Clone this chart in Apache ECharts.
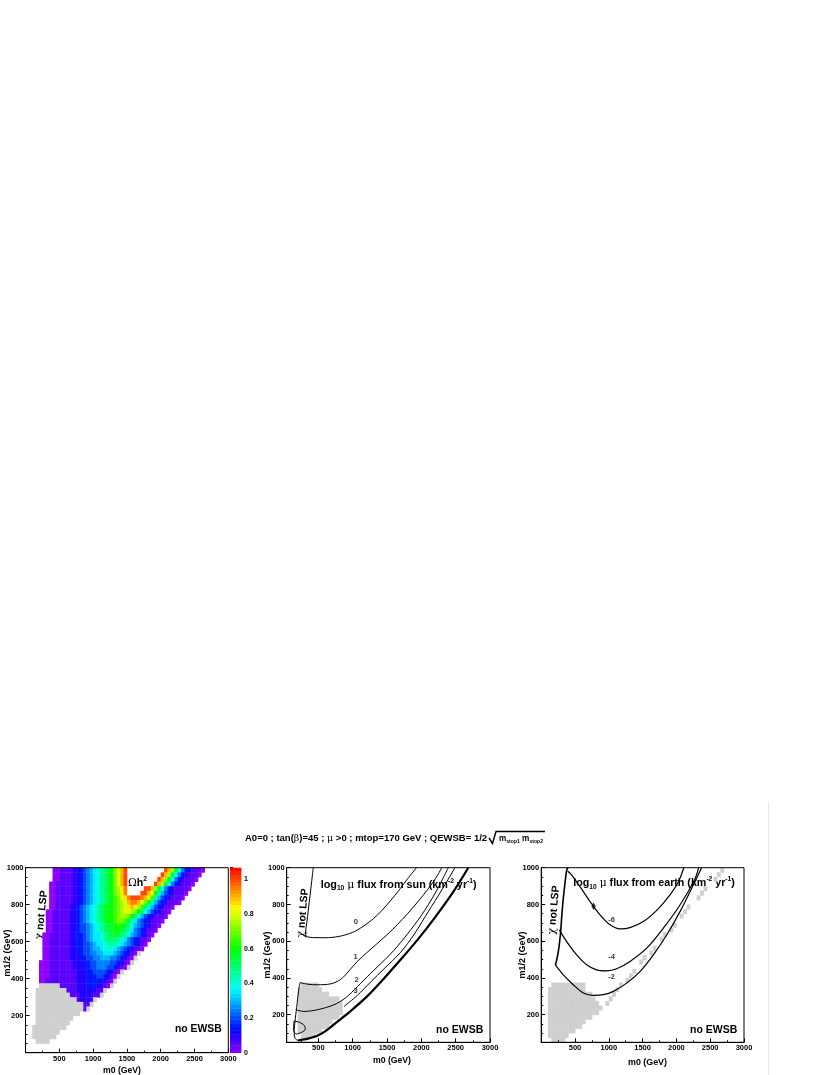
<!DOCTYPE html>
<html>
<head>
<meta charset="utf-8">
<script src="https://cdn.jsdelivr.net/npm/echarts@6/dist/echarts.min.js"></script>
<style>
html, body { margin: 0; padding: 0; background: #fff; }
#main { width: 830px; height: 1075px; }
</style>
</head>
<body>
<div id="main"></div>
<script>
// ---- data ----
// relic density grid: rows of m1/2 (25 GeV) from 975-1000 down to 50-75,
// columns of m0 (50 GeV) from 0. digit/letter = value/0.05, 'g' = gray cell
var relicRows = [
  "........001111223456789ABCEGIK...........KIFB85321110",
  "........001111223456789ABCEGIK..........KIFB85321110",
  "........001111223456789ABCEGIK.........KIFB85321110",
  ".......0011111223456789ABCEGIK........KIFB85321110",
  ".......0011111223456789ABCEFHJ.....KKIFB853211110",
  ".......0011111223456789ABCEFHJ....KKIGC964321110",
  ".......0011111223456789ABCDEGHJKKKJIGD964321110",
  ".......0011111223456789ABCDEFGIJJIGEC964321110",
  ".......001111223456789ABCCDEFGHIHFDA86432110",
  "......0011111223456789ABCCDEFGGFECA86432110",
  "......0011111223456789ABCCDEFFECA864321110",
  "......0011111223456789ABCCDEEDB9754321110",
  "......00111112234456789ABBCDCBA865432110",
  "......00111112234456789ABBCCBA975432110",
  ".....0011111122334567789ABBBA986543210",
  ".....0011111122334567789AAA9875432110",
  ".....0011111122334456778999876543210",
  ".....001111112233445667888765432110",
  ".....0011111122334455667776543210g",
  ".....001111112223344556665543210g",
  "....000111111122233445555443210g",
  "....00011111112223344555443210g",
  "....000111111112223344443210g",
  "....000111111112223334432 10g".replace(' ', ''),
  "....0011111111122233332210g",
  "....gggggg111112223332210g",
  "...ggggggggg11122222211g",
  "...gggggggggg111222211g",
  "...gggggggggggg12221g",
  "...gggggggggggggg11g",
  "...gggggggggggggg1g",
  "...ggggggggggggg",
  "...ggggggggggg",
  "...gggggggggg",
  "..gggggggggg",
  "..gggggggg",
  "..ggggggg",
  "...gggg"
];
// gray cells of the middle and right panels: rows of 25 GeV from 350-375 down
var sunGrayRows = [
  ".....ggggg",
  "....ggggggg",
  "....ggggggggg",
  "....gggggggggggg",
  "....ggggggggggggg",
  "....ggggggggggggg",
  "....ggggggggggggg",
  "....gggggggggggg",
  "....gggggggggg",
  "....ggggggggg",
  "....ggggggg",
  ".....gggg"
];
var earthGrayRows = [
  "...gggggggggg",
  "..ggggggggggg",
  "..ggggggggggggg",
  "..gggggggggggggg",
  "..ggggggggggggggg",
  "..gggggggggggggggg",
  "..ggggggggggggggg",
  "..ggggggggggggg",
  "..ggggggggggg",
  "..gggggggggg",
  "..gggggggg",
  "..gggggg",
  "...gggg"
];
var earthEdgeCells = [[950,250],[1000,275],[1050,300],[1100,325],[1150,350],[1250,375],[1300,400],
  [1350,425],[1450,475],[1500,500],[1600,525],[1650,550],[1750,600],[1800,625],[1900,650],[1950,675],
  [2050,725],[2100,750],[2150,775],[2300,825],[2350,850],[2400,875],[2550,925],[2600,950],[2650,975]];

// contour lines, [m0, m1/2]
var sunChiZero = [[427,1000],[405,930],[380,850],[355,770],[332,700],[315,650],[322,628],[420,620],[600,619],
  [800,626],[1000,648],[1150,680],[1300,722],[1420,765],[1550,820],[1680,880],[1800,940],[1930,1000]];
var sunOne = [[234,375],[350,366],[485,363],[680,368],[826,392],[950,440],[1068,490],[1214,540],[1350,585],
  [1500,635],[1650,690],[1800,750],[1950,815],[2100,885],[2230,955],[2297,1000]];
var sunTwo = [[171,227],[292,218],[485,227],[728,254],[898,292],[1068,352],[1262,425],[1457,495],[1600,550],
  [1800,640],[2000,740],[2200,860],[2393,1000]];
var sunThree = [[874,245],[1068,305],[1262,378],[1457,450],[1700,540],[1900,640],[2100,760],[2300,880],[2490,1000]];
var sunEdge = [[200,60],[350,70],[485,85],[630,118],[780,163],[970,220],[1210,300],[1450,395],[1700,500],
  [1950,610],[2200,730],[2450,860],[2684,1000]];
var sunLeft = [[234,375],[215,335],[200,290],[185,240],[172,200],[160,160],[150,120],[150,90],[165,70],[200,60]];
var sunLoop = [[145,165],[220,160],[300,140],[310,120],[260,105],[180,95],[140,115],[145,165]];
var sunLabels = [[1048,707,'0'],[1044,517,'1'],[1059,390,'2'],[1044,332,'3']];

var earthChi = [[395,1000],[377,987],[350,910],[327,834],[305,740],[288,653],[270,590],[253,544],[230,500],[210,471]];
var earthSix = [[390,982],[451,960],[574,897],[722,816],[870,743],[1018,689],[1166,667],[1314,674],[1511,707],
  [1720,772],[1905,852],[2030,924],[2110,1000]];
var earthFour = [[268,662],[377,598],[525,526],[673,472],[821,444],[969,439],[1117,450],[1314,490],[1560,562],
  [1807,671],[2053,797],[2270,935],[2330,1000]];
var earthTwo = [[210,471],[327,417],[475,363],[623,318],[771,305],[919,309],[1067,327],[1264,372],[1461,435],
  [1659,526],[1856,634],[2053,761],[2250,906],[2374,1000]];
var earthLabels = [[1042,716,'-6'],[1042,513,'-4'],[1042,408,'-2']];
var earthMarks = [[775,790]];

var cbMax = 1.067;

// ---- helpers ----
var FONT = '"Liberation Sans", Arial, Helvetica, sans-serif';
var GREEK = '"DejaVu Serif", "Liberation Serif", serif';
var CODES = '0123456789ABCDEFGHIJKL';

function parseRows(rows, firstBottom, h, w) {
  var cells = [], gray = [];
  rows.forEach(function (r, i) {
    var y = firstBottom - i * h;
    for (var c = 0; c < r.length; c++) {
      var ch = r.charAt(c);
      if (ch === '.') continue;
      if (ch === 'g') gray.push([c * w, y]);
      else cells.push([c * w, y, CODES.indexOf(ch) * 0.05]);
    }
  });
  return { cells: cells, gray: gray };
}

function cellRenderer(w, h, fill) {
  return function (params, api) {
    var a = api.coord([api.value(0), api.value(1) + h]);
    var b = api.coord([api.value(0) + w, api.value(1)]);
    return {
      type: 'rect',
      shape: { x: a[0], y: a[1], width: b[0] - a[0] + 0.4, height: b[1] - a[1] + 0.4 },
      style: { fill: fill || api.visual('color') }
    };
  };
}

function hsl2hex(h, s, l) {
  var c = (1 - Math.abs(2 * l - 1)) * s, x = c * (1 - Math.abs((h / 60) % 2 - 1)), m = l - c / 2;
  var r, g, b;
  if (h < 60) { r = c; g = x; b = 0; } else if (h < 120) { r = x; g = c; b = 0; }
  else if (h < 180) { r = 0; g = c; b = x; } else if (h < 240) { r = 0; g = x; b = c; }
  else if (h < 300) { r = x; g = 0; b = c; } else { r = c; g = 0; b = x; }
  function hx(v) { var s2 = Math.round((v + m) * 255).toString(16); return s2.length < 2 ? '0' + s2 : s2; }
  return '#' + hx(r) + hx(g) + hx(b);
}
// ROOT pretty palette: hue 280 -> 0
var palette = [];
for (var k = 0; k <= 28; k++) palette.push(hsl2hex(274 - 274 * k / 28, 1, 0.5));

var mctx = document.createElement('canvas').getContext('2d');
function fontOf(kind, size) {
  var g = kind.charAt(0) === 'g';
  return (g ? 'normal ' : 'bold ') + size.toFixed(2) + 'px ' + (g ? GREEK : FONT);
}
function partSize(kind, S) { return /sub|sup/.test(kind) ? S * 0.62 : S; }
function partDy(kind, S) { return /sub/.test(kind) ? S * 0.32 : (/sup/.test(kind) ? -S * 0.38 : 0); }
function measure(parts, S) {
  var w = 0;
  parts.forEach(function (p) { mctx.font = fontOf(p[1], partSize(p[1], S)); w += mctx.measureText(p[0]).width; });
  return w;
}
function textRun(parts, x0, x1, y) {
  var S = 10 * (x1 - x0) / measure(parts, 10);
  var x = x0, out = [];
  parts.forEach(function (p) {
    var f = fontOf(p[1], partSize(p[1], S));
    mctx.font = f;
    out.push({ type: 'text', x: x, y: y + partDy(p[1], S), silent: true,
      style: { text: p[0], font: f, fill: '#000', textAlign: 'left', textVerticalAlign: 'middle' } });
    x += mctx.measureText(p[0]).width;
  });
  return out;
}
function rotText(x, y, deg, text, rich) {
  return { type: 'text', x: x, y: y, rotation: deg * Math.PI / 180, silent: true,
    style: { text: text, rich: rich, fill: '#000', textAlign: 'center', textVerticalAlign: 'middle',
      font: 'bold 9px ' + FONT } };
}

var relic = parseRows(relicRows, 975, 25, 50);
var sunGray = parseRows(sunGrayRows, 350, 25, 50).gray;
var earthGray = parseRows(earthGrayRows, 350, 25, 50).gray;
var cbStep = cbMax / 50, cbData = [];
for (var i = 0; i < 50; i++) cbData.push([0, i * cbStep, (i + 0.5) * cbStep]);

// ---- axes ----
var labelStyle = { color: '#000', fontSize: 7.5, fontWeight: 'bold', fontFamily: FONT, margin: 2 };
function xAx(gi, min) {
  var a = { type: 'value', gridIndex: gi, min: min, max: 3000, z: 10,
    axisLine: { lineStyle: { color: '#000', width: 1 } },
    axisTick: { inside: true, length: 4, lineStyle: { color: '#000' } },
    minorTick: { show: true, splitNumber: 2, length: 2, lineStyle: { color: '#000' } },
    splitLine: { show: false },
    axisLabel: Object.assign({ showMinLabel: true, showMaxLabel: true,
      formatter: function (v) { return (v > 0 && v % 500 === 0) ? String(v) : ''; } }, labelStyle) };
  if (min % 500 === 0) a.interval = 500; else a.splitNumber = 6;
  return a;
}
function yAx(gi, min) {
  var a = { type: 'value', gridIndex: gi, min: min, max: 1000, z: 10,
    axisLine: { lineStyle: { color: '#000', width: 1 } },
    axisTick: { inside: true, length: 4, lineStyle: { color: '#000' } },
    minorTick: { show: true, splitNumber: 4, length: 2, lineStyle: { color: '#000' } },
    splitLine: { show: false },
    axisLabel: Object.assign({ showMinLabel: true, showMaxLabel: true,
      formatter: function (v) { return (v > 0 && v % 200 === 0) ? String(v) : ''; } }, labelStyle) };
  if (min % 200 === 0) a.interval = 200; else a.splitNumber = 5;
  return a;
}
var gridBase = { show: true, z: 10, borderColor: '#000', borderWidth: 1, backgroundColor: 'transparent' };

function lineSeries(gi, data, width) {
  return { type: 'line', xAxisIndex: gi, yAxisIndex: gi, data: data, symbol: 'none', showSymbol: false,
    smooth: 0.3, silent: true, lineStyle: { color: '#000', width: width || 1 }, z: 5 };
}
function labelSeries(gi, items) {
  return { type: 'scatter', xAxisIndex: gi, yAxisIndex: gi, symbolSize: 0, silent: true, z: 6,
    data: items.map(function (d) { return { value: [d[0], d[1]], name: d[2] }; }),
    label: { show: true, position: 'inside', formatter: '{b}', color: '#000', fontSize: 7.5,
      fontWeight: 'bold', fontFamily: FONT } };
}

// ---- texts ----
var B = 'b', G = 'g';
var graphics = [];
graphics = graphics.concat(textRun([['A0=0 ; tan(', B], ['\u03b2', G], [')=45 ; ', B], ['\u03bc', G],
  [' >0 ; mtop=170 GeV ; QEWSB= 1/2', B]], 245, 487, 838.5));
graphics = graphics.concat(textRun([['m', B], ['stop1', 'sub'], [' m', B], ['stop2', 'sub']], 499, 543, 838.5));
graphics.push({ type: 'polyline', silent: true, shape: { points: [[489, 838], [492.5, 843.5], [496, 831.5], [545, 831.5]] },
  style: { stroke: '#000', lineWidth: 1.4, fill: null } });
graphics = graphics.concat(textRun([['\u03a9', G], ['h', B], ['2', 'sup']], 128, 147, 883.5));
graphics = graphics.concat(textRun([['log', B], ['10', 'sub'], [' ', B], ['\u03bc', G], [' flux from sun (km', B],
  ['-2', 'sup'], [' yr', B], ['-1', 'sup'], [')', B]], 320.7, 476.7, 885));
graphics = graphics.concat(textRun([['log', B], ['10', 'sub'], [' ', B], ['\u03bc', G], [' flux from earth (km', B],
  ['-2', 'sup'], [' yr', B], ['-1', 'sup'], [')', B]], 573.3, 735, 883.5));
graphics = graphics.concat(textRun([['no EWSB', B]], 175, 221.7, 1029));
graphics = graphics.concat(textRun([['no EWSB', B]], 436, 483.3, 1030));
graphics = graphics.concat(textRun([['no EWSB', B]], 690, 737.3, 1030));
graphics = graphics.concat(textRun([['m0 (GeV)', B]], 103, 141, 1070.5));
graphics = graphics.concat(textRun([['m0 (GeV)', B]], 373, 411, 1061));
graphics = graphics.concat(textRun([['m0 (GeV)', B]], 628, 667, 1062.5));
var chiRich = { g: { fontFamily: GREEK, fontSize: 11, fontWeight: 'normal', color: '#000' },
  b: { fontFamily: FONT, fontSize: 10.5, fontWeight: 'bold', color: '#000' } };
graphics.push(rotText(41.7, 915, 84, '{g|\u03c7}{b| not LSP}', chiRich));
graphics.push(rotText(303, 913, 85, '{g|\u03c7}{b| not LSP}', chiRich));
graphics.push(rotText(554, 910, 85, '{g|\u03c7}{b| not LSP}', chiRich));
var tRich = { b: { fontFamily: FONT, fontSize: 9, fontWeight: 'bold', color: '#000' } };
graphics.push(rotText(7.5, 953, 90, '{b|m1/2 (GeV)}', tRich));
graphics.push(rotText(267.5, 955, 90, '{b|m1/2 (GeV)}', tRich));
graphics.push(rotText(523, 955, 90, '{b|m1/2 (GeV)}', tRich));
graphics.push({ type: 'line', silent: true, shape: { x1: 768.5, y1: 802, x2: 768.5, y2: 1075 },
  style: { stroke: '#e6e6e6', lineWidth: 1 } });

var option = {
  animation: false,
  backgroundColor: '#fff',
  grid: [
    Object.assign({ left: 25.5, top: 867.7, width: 202.8, height: 185 }, gridBase),
    { left: 230, top: 867.7, width: 11, height: 185, show: false },
    Object.assign({ left: 286.7, top: 867.7, width: 203.3, height: 174.6 }, gridBase),
    Object.assign({ left: 541.2, top: 867.7, width: 202.8, height: 174.6 }, gridBase)
  ],
  xAxis: [
    xAx(0, 0),
    { type: 'value', gridIndex: 1, min: 0, max: 1, show: false },
    xAx(2, 40),
    xAx(3, 0)
  ],
  yAxis: [
    yAx(0, 0),
    { type: 'value', gridIndex: 1, min: 0, max: cbMax, interval: 0.2, position: 'right',
      axisLine: { show: false }, splitLine: { show: false },
      axisTick: { show: true, inside: false, length: 3, lineStyle: { color: '#000' } },
      minorTick: { show: true, splitNumber: 4, length: 1.5, lineStyle: { color: '#000' } },
      axisLabel: { color: '#000', fontSize: 7, fontWeight: 'bold', fontFamily: FONT, margin: 3, showMaxLabel: true,
        formatter: function (v) {
          if (Math.abs(v * 5 - Math.round(v * 5)) > 1e-6) return '';
          return v === 0 ? '0' : (Math.abs(v - 1) < 1e-6 ? '1' : v.toFixed(1));
        } } },
    yAx(2, 50),
    yAx(3, 50)
  ],
  visualMap: {
    type: 'continuous', show: false, seriesIndex: [0, 2], dimension: 2,
    min: 0, max: cbMax, inRange: { color: palette }
  },
  graphic: { elements: graphics },
  series: [
    { type: 'custom', xAxisIndex: 0, yAxisIndex: 0, data: relic.cells, renderItem: cellRenderer(50, 25), silent: true, z: 2 },
    { type: 'custom', xAxisIndex: 0, yAxisIndex: 0, data: relic.gray, renderItem: cellRenderer(50, 25, '#cfcfcf'), silent: true, z: 2 },
    { type: 'custom', xAxisIndex: 1, yAxisIndex: 1, data: cbData, renderItem: cellRenderer(1, cbStep), silent: true, z: 2 },
    { type: 'custom', xAxisIndex: 2, yAxisIndex: 2, data: sunGray, renderItem: cellRenderer(50, 25, '#cfcfcf'), silent: true, z: 2 },
    lineSeries(2, sunChiZero, 1),
    lineSeries(2, sunOne, 1),
    lineSeries(2, sunTwo, 1),
    lineSeries(2, sunThree, 1),
    lineSeries(2, sunEdge, 2.2),
    lineSeries(2, sunLeft, 1),
    lineSeries(2, sunLoop, 1),
    labelSeries(2, sunLabels),
    { type: 'custom', xAxisIndex: 3, yAxisIndex: 3, data: earthGray, renderItem: cellRenderer(50, 25, '#cfcfcf'), silent: true, z: 2 },
    { type: 'custom', xAxisIndex: 3, yAxisIndex: 3, data: earthEdgeCells, renderItem: cellRenderer(50, 25, '#cfcfcf'), silent: true, z: 2 },
    lineSeries(3, earthChi, 1.6),
    lineSeries(3, earthSix, 1.2),
    lineSeries(3, earthFour, 1.2),
    lineSeries(3, earthTwo, 1.2),
    labelSeries(3, earthLabels),
    { type: 'scatter', xAxisIndex: 3, yAxisIndex: 3, data: earthMarks, symbol: 'diamond', symbolSize: [4, 8],
      itemStyle: { color: '#000' }, silent: true, z: 6 }
  ]
};

var chart = echarts.init(document.getElementById('main'));
chart.setOption(option);
</script>
</body>
</html>
